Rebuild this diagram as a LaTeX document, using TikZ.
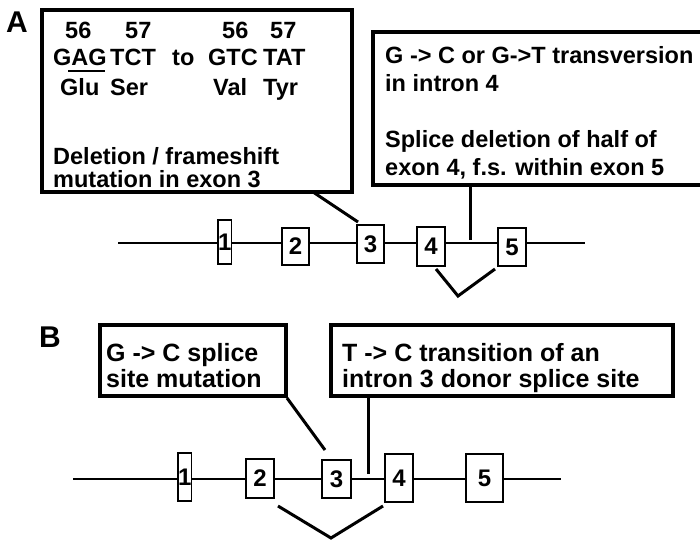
\documentclass[tikz,border=0pt]{standalone}
\usepackage{fontspec}
\setmainfont{Liberation Sans}
\usetikzlibrary{calc}
\begin{document}
\begin{tikzpicture}[x=1pt,y=-1pt,
  box/.style={draw, line width=3.5pt, inner sep=0pt, outer sep=0pt, anchor=north west},
  exon/.style={draw, line width=1.1pt, fill=white, inner sep=0pt, outer sep=0pt, anchor=north west, font=\fontsize{24}{24}\selectfont\bfseries},
  conn/.style={line width=3pt},
  gene/.style={line width=2.8pt},
  txa/.style={anchor=base west, inner sep=0pt, font=\fontsize{23.5}{28}\selectfont\bfseries},
  txb/.style={anchor=base west, inner sep=0pt, font=\fontsize{25}{30}\selectfont\bfseries},
  panel/.style={anchor=north west, inner sep=0pt, font=\fontsize{30}{30}\selectfont\bfseries}]
\useasboundingbox (0,0) rectangle (700,541);

% ---------- Panel A ----------
\node[panel] (pa) at (6,12) {A};
\node[box, minimum width=310pt, minimum height=182pt] (a1) at (42,10) {};
\node[box, minimum width=330pt, minimum height=153pt] (a2) at (373,32) {};

\node[txa] (n56a) at (65,38) {56};
\node[txa] (n57a) at (125,38) {57};
\node[txa] (n56b) at (222,38) {56};
\node[txa] (n57b) at (270,38) {57};
\node[txa] (gag) at (53,65) {GAG};
\node[txa] (tct) at (110,65) {TCT};
\node[txa] (to) at (172,65) {to};
\node[txa] (gtc) at (208,65) {GTC};
\node[txa] (tat) at (263,65) {TAT};
\coordinate (ul1) at (68,71);
\coordinate (ul2) at (105,71);
\draw[line width=1.5pt] (ul1) -- (ul2);
\node[txa] (glu) at (60,95) {Glu};
\node[txa] (ser) at (110,95) {Ser};
\node[txa] (val) at (213,95) {Val};
\node[txa] (tyr) at (263,95) {Tyr};
\node[txa] (del1) at (53,164) {Deletion / frameshift};
\node[txa] (del2) at (53,187) {mutation in exon 3};

\node[txa] (t1) at (385,63) {G -> C or G->T transversion};
\node[txa] (t2) at (385,91) {in intron 4};
\node[txa] (t3) at (385,147) {Splice deletion of half of};
\node[txa] (t4) at (385,175) {exon 4, f.s. within exon 5};

\coordinate (ga1) at (118,243);
\coordinate (ga2) at (585,243);
\draw[gene] (ga1) -- (ga2);
\node[exon, minimum width=9pt, minimum height=44pt] (ea1) at (218,220) {1};
\node[exon, minimum width=27pt, minimum height=37pt] (ea2) at (282,228) {2};
\node[exon, minimum width=27pt, minimum height=38pt] (ea3) at (357,225) {3};
\node[exon, minimum width=28pt, minimum height=39pt] (ea4) at (417,227) {4};
\node[exon, minimum width=28pt, minimum height=38pt] (ea5) at (498,228) {5};

\coordinate (s1) at (313,192);
\draw[conn] (s1) -- ($(ea3.north west)+(1,-3)$);
\coordinate (ta2) at (470,240);
\draw[conn] (ta2 |- a2.south) -- (ta2);
\coordinate (va) at (458,296);
\draw[conn] ($(ea4.south east)+(-9,3)$) -- (va) -- ($(ea5.south west)+(-3,3)$);

% ---------- Panel B ----------
\node[panel] (pb) at (39,327) {B};
\node[box, minimum width=186pt, minimum height=71pt] (b1) at (100,325) {};
\node[box, minimum width=342pt, minimum height=71pt] (b2) at (331,325) {};
\node[txb] (u1) at (106,361) {G -> C splice};
\node[txb] (u2) at (106,387) {site mutation};
\node[txb] (v1) at (342,361) {T -> C transition of an};
\node[txb] (v2) at (342,387) {intron 3 donor splice site};

\coordinate (gb1) at (73,479);
\coordinate (gb2) at (561,479);
\draw[gene] (gb1) -- (gb2);
\node[exon, minimum width=10pt, minimum height=48pt] (eb1) at (178,453) {1};
\node[exon, minimum width=28pt, minimum height=39pt] (eb2) at (246,459) {2};
\node[exon, minimum width=29pt, minimum height=38pt] (eb3) at (322,460) {3};
\node[exon, minimum width=28pt, minimum height=48pt] (eb4) at (385,454) {4};
\node[exon, minimum width=37pt, minimum height=48pt] (eb5) at (466,454) {5};

\draw[conn] ($(b1.south east)+(1,2)$) -- ($(eb3.north west)+(3,-10)$);
\coordinate (tb2) at (368,474);
\draw[conn] (tb2 |- b2.south) -- (tb2);
\coordinate (vb) at (331,538);
\draw[conn] ($(eb2.south east)+(4,8)$) -- (vb) -- ($(eb4.south west)+(-2,4)$);
\end{tikzpicture}
\end{document}
